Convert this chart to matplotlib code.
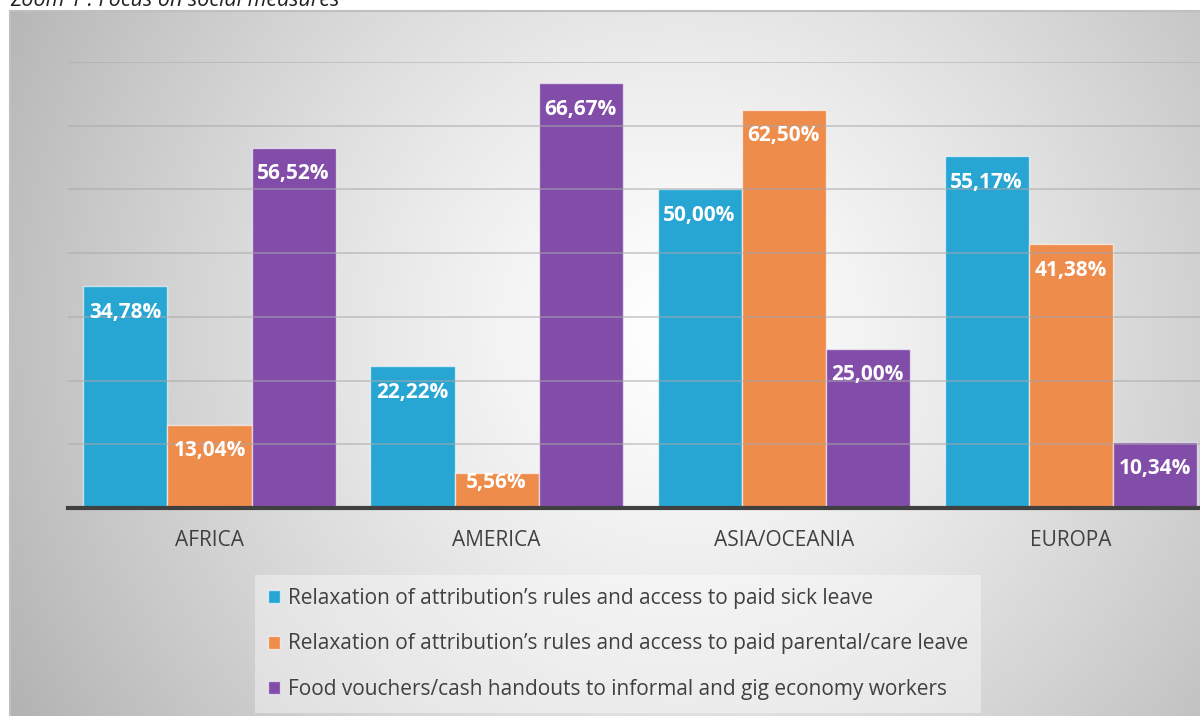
import numpy as np
import matplotlib.pyplot as plt

# data
regions = ['AFRICA', 'AMERICA', 'ASIA/OCEANIA', 'EUROPA']
sick_leave = [34.78, 22.22, 50.00, 55.17]
parental_leave = [13.04, 5.56, 62.50, 41.38]
food_vouchers = [56.52, 66.67, 25.00, 10.34]
series_names = [
    'Relaxation of attribution\u2019s rules and access to paid sick leave',
    'Relaxation of attribution\u2019s rules and access to paid parental/care leave',
    'Food vouchers/cash handouts to informal and gig economy workers',
]
colors = ['#27A6D3', '#EE8C4C', '#824DA9']
title = 'Zoom 1 : Focus on social measures'

plt.rcParams['font.family'] = ['Open Sans', 'DejaVu Sans']

W, H = 1200, 716
fig = plt.figure(figsize=(W / 100, H / 100), dpi=100)
fig.patch.set_facecolor('white')

# panel background with a soft radial gradient
px0, py0 = 10, 11
bg = fig.add_axes([px0 / W, 0, 1 - px0 / W, 1 - py0 / H])
yy, xx = np.mgrid[py0:H, px0:W]
d = np.sqrt((xx - 680) ** 2 + (yy - 330) ** 2)
shade = 1 - 0.264 * np.clip(d / 700, 0, 1.2) ** 1.3
bg.imshow(np.dstack([shade] * 3), aspect='auto', extent=(0, 1, 0, 1))
bg.set_xlim(0, 1)
bg.set_ylim(0, 1)
bg.set_xticks([])
bg.set_yticks([])
for s in ['right', 'bottom']:
    bg.spines[s].set_visible(False)
for s in ['left', 'top']:
    bg.spines[s].set_color('#c0c0c0')
    bg.spines[s].set_linewidth(1.5)

fig.text(px0 / W, 1 - 6 / H, title, fontsize=15.5, style='italic',
         color='#222222', va='baseline', ha='left')

# main axes
left, right = 68 / W, 1.0
bottom, top = 1 - 508 / H, 1 - 62 / H
ax = fig.add_axes([left, bottom, right - left, top - bottom])
ax.patch.set_alpha(0)
ax.set_xlim(-0.493, 3.45)
ax.set_ylim(0, 70)

x = np.arange(len(regions))
w = 0.293
pad = 4.08
for i, (vals, c) in enumerate(zip([sick_leave, parental_leave, food_vouchers], colors)):
    pos = x + (i - 1) * w
    ax.bar(pos, vals, w, color=c, edgecolor=(1, 1, 1, 0.6), linewidth=1,
           label=series_names[i], zorder=2)
    for xp, v in zip(pos, vals):
        ax.text(xp, max(v - pad, pad), f'{v:.2f}%'.replace('.', ','),
                ha='center', va='center', color='white', fontsize=15,
                fontweight='bold', zorder=4)

ax.set_yticks(np.arange(10, 71, 10))
ax.yaxis.grid(True, color='#a8a8a8', alpha=0.55, linewidth=1.3, zorder=3)
ax.set_axisbelow(False)
ax.tick_params(axis='y', length=0, labelleft=False)
ax.set_xticks(x)
ax.set_xticklabels(regions, fontsize=15, color='#404040')
ax.tick_params(axis='x', length=0, pad=16)
for s in ['left', 'right', 'top']:
    ax.spines[s].set_visible(False)
ax.spines['bottom'].set_color('#404040')
ax.spines['bottom'].set_linewidth(3)
ax.spines['bottom'].set_zorder(5)

leg = ax.legend(loc='upper left', bbox_to_anchor=(255 / W, 1 - 575 / H),
                bbox_transform=fig.transFigure, frameon=True, fontsize=15,
                handlelength=0.6, handleheight=0.6, handletextpad=0.35,
                labelspacing=1.18, borderpad=0.62, borderaxespad=0,
                labelcolor='#404040')
leg.get_frame().set_facecolor('white')
leg.get_frame().set_alpha(0.4)
leg.get_frame().set_edgecolor('none')
leg.get_frame().set_boxstyle('square', pad=0)

fig.savefig('out.png', dpi=100)
